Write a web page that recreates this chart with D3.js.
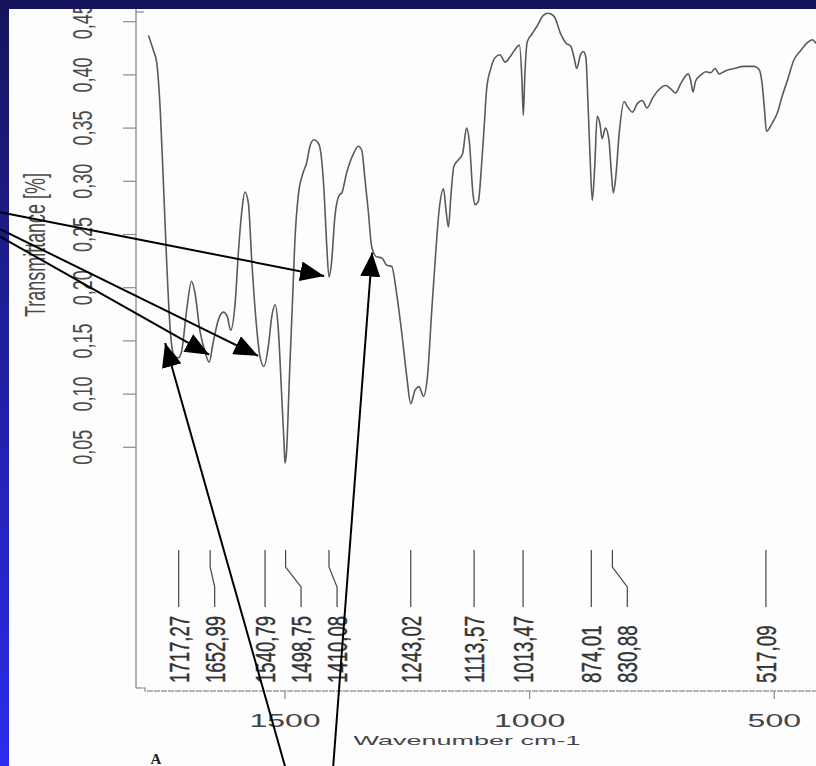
<!DOCTYPE html>
<html>
<head>
<meta charset="utf-8">
<script src="https://cdn.jsdelivr.net/npm/d3@7"></script>
<style>
  html, body { margin: 0; padding: 0; background: #fdfdfd; }
  svg { display: block; }
</style>
</head>
<body>
<div id="vis"></div>
<script>
// spectrum (wavenumber cm-1, transmittance)
const wavenumber = [
  1779,1769,1762,1755,1749,1742,1735,1728,1718,1711,
  1701,1691,1684,1674,1663,1655,1647,1636,1626,1618,
  1611,1602,1595,1588,1582,1575,1568,1561,1551,1543,
  1534,1527,1520,1514,1507,1502,1500,1497,1491,1484,
  1480,1473,1463,1456,1449,1441,1432,1425,1420,1415,
  1410,1405,1398,1389,1384,1374,1360,1350,1343,1337,
  1330,1323,1313,1302,1292,1282,1272,1262,1251,1243,
  1234,1226,1217,1209,1200,1193,1185,1176,1171,1166,
  1161,1155,1146,1137,1129,1123,1116,1112,1105,1098,
  1093,1088,1080,1071,1061,1050,1040,1028,1021,1016,
  1013,1010,1005,996,986,972,962,950,937,926,
  916,909,904,896,890,885,881,877,872,867,
  862,856,852,845,838,833,829,824,817,807,
  800,790,780,770,760,749,736,722,712,702,
  691,676,671,666,661,650,640,630,621,613,
  599,582,562,541,531,525,520,516,504,494,
  484,473,460,446,433,422,415,405
];
const transmittance = [
  .437,.423,.411,.367,.304,.226,.163,.138,.134,.141,
  .179,.206,.195,.160,.139,.130,.148,.170,.177,.173,
  .160,.185,.235,.273,.290,.280,.226,.179,.135,.126,
  .145,.173,.184,.163,.101,.054,.035,.045,.116,.195,
  .242,.286,.308,.317,.333,.339,.336,.320,.289,.242,
  .210,.223,.267,.287,.289,.308,.326,.333,.329,.304,
  .273,.239,.229,.228,.221,.220,.195,.160,.116,.091,
  .104,.107,.098,.116,.179,.226,.273,.293,.273,.257,
  .286,.314,.320,.326,.350,.336,.289,.278,.281,.317,
  .351,.386,.405,.416,.419,.412,.417,.425,.428,.398,
  .362,.398,.431,.438,.445,.456,.458,.455,.439,.430,
  .427,.416,.406,.419,.422,.416,.376,.329,.282,.314,
  .361,.353,.340,.350,.339,.308,.289,.304,.345,.375,
  .370,.365,.373,.376,.369,.378,.386,.390,.387,.383,
  .392,.401,.395,.384,.394,.400,.403,.402,.406,.401,
  .404,.406,.408,.408,.405,.392,.367,.347,.355,.364,
  .380,.395,.414,.423,.430,.433,.430,.425
];

const peaks = [1717.27, 1652.99, 1540.79, 1498.75, 1410.08, 1243.02, 1113.57, 1013.47, 874.01, 830.88, 517.09];
const peakLabels = ["1717,27", "1652,99", "1540,79", "1498,75", "1410,08", "1243,02", "1113,57", "1013,47", "874,01", "830,88", "517,09"];

const yTicks = [0.05, 0.10, 0.15, 0.20, 0.25, 0.30, 0.35, 0.40, 0.45];
const yTickLabels = ["0,05", "0,10", "0,15", "0,20", "0,25", "0,30", "0,35", "0,40", "0,45"];
const xTicks = [1500, 1000, 500];
const xTickLabels = ["1500", "1000", "500"];

// annotation arrows, in data units (start -> tip)
const arrowFrom = [[2082, 0.271], [2082, 0.255], [2082, 0.248], [1498, -0.253], [1402, -0.253]];
const arrowTo = [[1420, 0.211], [1555, 0.136], [1655, 0.137], [1745, 0.148], [1322, 0.233]];

var W = 816, H = 766;
var axisX = 136, axisBottom = 691;

var svg = d3.select("#vis").append("svg")
  .attr("width", W).attr("height", H);

var defs = svg.append("defs");
var grad = defs.append("linearGradient").attr("id", "side")
  .attr("x1", 0).attr("y1", 0).attr("x2", 0).attr("y2", 1);
grad.append("stop").attr("offset", "0%").attr("stop-color", "#15155c");
grad.append("stop").attr("offset", "100%").attr("stop-color", "#2c2cec");

defs.append("clipPath").attr("id", "plot")
  .append("rect").attr("x", axisX + 1).attr("y", 0)
  .attr("width", W - axisX).attr("height", axisBottom - 2);

defs.append("marker").attr("id", "head")
  .attr("viewBox", "0 0 24 20").attr("refX", 24).attr("refY", 10)
  .attr("markerWidth", 24).attr("markerHeight", 20)
  .attr("markerUnits", "userSpaceOnUse").attr("orient", "auto")
  .append("path").attr("d", "M0,0 L24,10 L0,20 Z").attr("fill", "#000");

svg.append("rect").attr("width", W).attr("height", H).attr("fill", "#fdfdfd");

var x = d3.scaleLinear().domain([1500, 500]).range([285, 774.3]);
var y = d3.scaleLinear().domain([0.05, 0.45]).range([447.3, 21.7]);

var font = "'Liberation Sans', Arial, sans-serif";

// y axis
svg.append("line")
  .attr("x1", axisX).attr("x2", axisX).attr("y1", 0).attr("y2", axisBottom - 3)
  .attr("stroke", "#8a8a8a").attr("stroke-width", 1.3);
svg.append("line")
  .attr("x1", axisX).attr("x2", axisX + 8).attr("y1", 12).attr("y2", 12)
  .attr("stroke", "#8a8a8a").attr("stroke-width", 1.2);
svg.selectAll(".ytick").data(yTicks).join("line")
  .attr("x1", axisX - 13).attr("x2", axisX)
  .attr("y1", d => y(d)).attr("y2", d => y(d))
  .attr("stroke", "#8a8a8a").attr("stroke-width", 1.2);
svg.selectAll(".ylab").data(yTicks).join("text")
  .attr("transform", d => "translate(" + (axisX - 44) + "," + y(d) + ") rotate(-90)")
  .attr("text-anchor", "middle")
  .attr("font-family", font).attr("font-size", 27)
  .attr("textLength", 35).attr("lengthAdjust", "spacingAndGlyphs")
  .attr("fill", "#4a4a4a")
  .text((d, i) => yTickLabels[i]);
svg.append("text")
  .attr("transform", "translate(45,245) rotate(-90)")
  .attr("text-anchor", "middle")
  .attr("font-family", font).attr("font-size", 30)
  .attr("textLength", 144).attr("lengthAdjust", "spacingAndGlyphs")
  .attr("fill", "#4a4a4a")
  .text("Transmittance [%]");

// x axis
svg.append("path")
  .attr("d", "M" + axisX + "," + (axisBottom - 3) + " H" + (axisX + 9) + " V" + axisBottom + " H" + W)
  .attr("fill", "none").attr("stroke", "#9a9a9a").attr("stroke-width", 1.3)
  .attr("stroke-dasharray", "6,1");
svg.selectAll(".xtick").data(xTicks).join("line")
  .attr("x1", d => x(d)).attr("x2", d => x(d))
  .attr("y1", axisBottom).attr("y2", axisBottom + 8)
  .attr("stroke", "#8a8a8a").attr("stroke-width", 1.2);
svg.selectAll(".xlab").data(xTicks).join("text")
  .attr("x", d => x(d)).attr("y", 727)
  .attr("text-anchor", "middle")
  .attr("font-family", font).attr("font-size", 18)
  .attr("textLength", (d, i) => xTickLabels[i].length * 17.8)
  .attr("lengthAdjust", "spacingAndGlyphs")
  .attr("fill", "#444")
  .text((d, i) => xTickLabels[i]);
svg.append("text")
  .attr("x", 467).attr("y", 745)
  .attr("text-anchor", "middle")
  .attr("font-family", font).attr("font-size", 13)
  .attr("textLength", 227).attr("lengthAdjust", "spacingAndGlyphs")
  .attr("fill", "#444")
  .text("Wavenumber cm-1");

// spectrum
var pts = d3.zip(wavenumber, transmittance);
svg.append("path")
  .datum(pts)
  .attr("clip-path", "url(#plot)")
  .attr("fill", "none")
  .attr("stroke", "#5a5a5a")
  .attr("stroke-width", 1.6)
  .attr("d", d3.line()
    .x(d => x(d[0]))
    .y(d => y(d[1]))
    .curve(d3.curveMonotoneX));

// peak labels, pushed apart so they don't overlap
var prev = -Infinity;
var centers = peaks.map(p => {
  var c = Math.max(x(p), prev + 36);
  prev = c;
  return c;
});
svg.selectAll(".conn").data(peaks).join("path")
  .attr("d", (d, i) => "M" + x(d) + ",550 V567 L" + centers[i] + ",587 V607")
  .attr("fill", "none").attr("stroke", "#444").attr("stroke-width", 1.2);
svg.selectAll(".plab").data(peaks).join("text")
  .attr("transform", (d, i) => "translate(" + (centers[i] + 10) + ",683) rotate(-90)")
  .attr("font-family", font).attr("font-size", 28)
  .attr("textLength", (d, i) => peakLabels[i].length * 9.6)
  .attr("lengthAdjust", "spacingAndGlyphs")
  .attr("fill", "#333").attr("stroke", "#333").attr("stroke-width", 0.4)
  .text((d, i) => peakLabels[i]);

// slide frame
svg.append("rect").attr("x", 0).attr("y", 0).attr("width", 9).attr("height", H)
  .attr("fill", "url(#side)");
svg.append("rect").attr("x", 0).attr("y", 0).attr("width", W).attr("height", 9)
  .attr("fill", "#14145c");

// arrows
svg.selectAll(".arrow").data(arrowFrom).join("line")
  .attr("x1", d => x(d[0])).attr("y1", d => y(d[1]))
  .attr("x2", (d, i) => x(arrowTo[i][0])).attr("y2", (d, i) => y(arrowTo[i][1]))
  .attr("stroke", "#000").attr("stroke-width", 2)
  .attr("marker-end", "url(#head)");

svg.append("text")
  .attr("x", 156).attr("y", 764)
  .attr("text-anchor", "middle")
  .attr("font-family", "'Liberation Serif', 'DejaVu Serif', serif")
  .attr("font-weight", "bold").attr("font-size", 15)
  .attr("fill", "#222")
  .text("A");
</script>
</body>
</html>
